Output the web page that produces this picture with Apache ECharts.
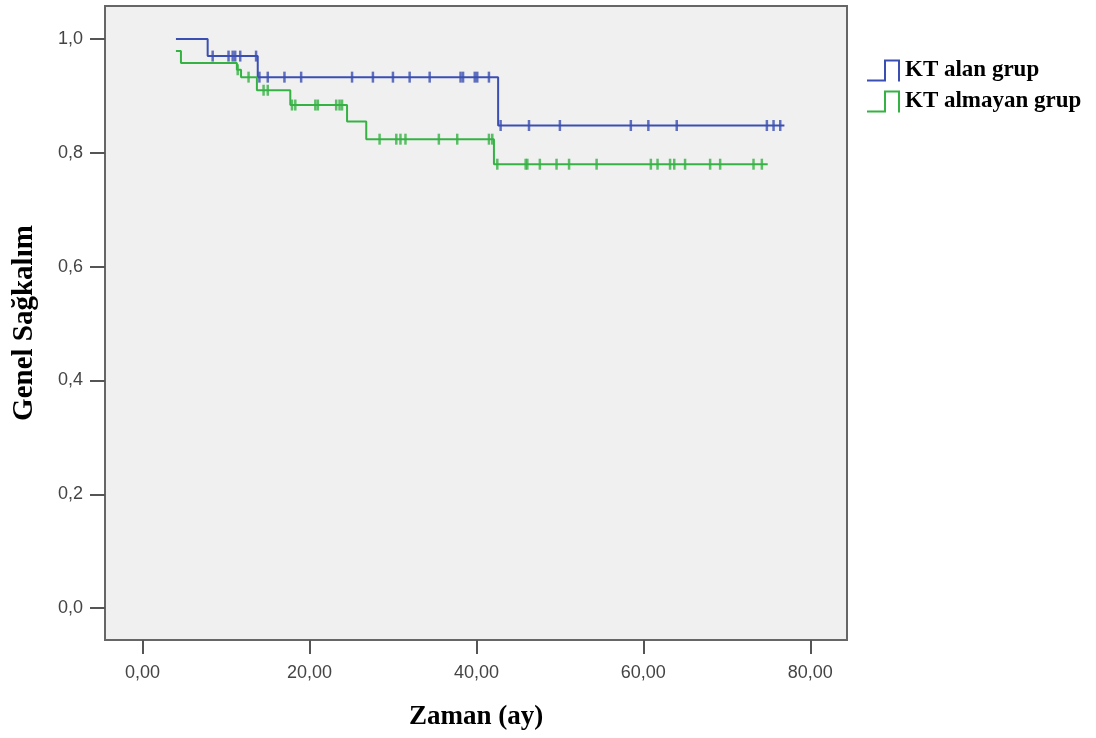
<!DOCTYPE html>
<html>
<head>
<meta charset="utf-8">
<script src="https://cdn.jsdelivr.net/npm/echarts@6/dist/echarts.min.js"></script>
<style>
  html, body { margin: 0; padding: 0; background: #fff; }
  #chart { width: 1096px; height: 738px; }
</style>
</head>
<body>
<div id="chart"></div>
<script>
  // 组名
  var groupNames = ['KT alan grup', 'KT almayan grup'];

  // 阶梯点 [时间, 生存率]
  var ktAlanSteps = [[4.0, 1.0], [7.8, 0.970], [13.8, 0.933], [42.6, 0.848], [76.9, 0.848]];
  var ktAlmayanSteps = [[4.0, 0.979], [4.6, 0.958], [11.3, 0.946], [11.8, 0.933], [13.7, 0.910],
    [17.7, 0.884], [24.5, 0.855], [26.8, 0.824], [42.1, 0.780], [74.9, 0.780]];

  // 删失时间
  var ktAlanCensored = [8.4, 10.3, 10.8, 11.1, 11.7, 13.6, 14.0, 15.0, 17.0, 19.0, 25.1, 27.6, 30.0,
    32.0, 34.4, 38.1, 38.4, 39.8, 40.1, 41.5, 42.9, 46.3, 50.0, 58.5, 60.6, 64.0, 74.8, 75.6, 76.4];
  var ktAlmayanCensored = [11.4, 12.7, 14.5, 15.0, 17.9, 18.3, 20.7, 21.0, 23.2, 23.6, 23.9, 28.4,
    30.4, 30.9, 31.5, 35.5, 37.7, 41.5, 41.9, 42.5, 45.9, 46.1, 47.6, 49.6, 51.1, 54.4, 60.9, 61.7,
    63.2, 63.7, 65.0, 68.0, 69.2, 73.2, 74.2];

  // 刻度
  var xTicks = [0, 20, 40, 60, 80];
  var yTicks = [0, 0.2, 0.4, 0.6, 0.8, 1.0];

  var blue = '#3b4fb2';
  var green = '#36b245';

  // 删失点落在阶梯线上
  function censorPoints(steps, times) {
    return times.map(function (t) {
      var s = steps[0][1];
      for (var i = 0; i < steps.length; i++) {
        if (steps[i][0] <= t) s = steps[i][1];
      }
      return [t, s];
    });
  }

  // 图例图标：阶梯形
  var stepIcon = 'path://M0,20 L17,20 L17,0 L33,0 L33,22 L31,22 L31,2 L19,2 L19,22 L0,22 Z';

  var chart = echarts.init(document.getElementById('chart'));

  var option = {
    backgroundColor: '#fff',
    animation: false,
    grid: {
      left: 105,
      right: 249,
      top: 6,
      bottom: 98,
      show: true,
      backgroundColor: '#f0f0f0',
      borderColor: '#666',
      borderWidth: 2
    },
    legend: {
      orient: 'vertical',
      left: 862,
      top: 54,
      itemWidth: 33,
      itemHeight: 22,
      itemGap: 8,
      textStyle: {
        fontFamily: 'Liberation Serif',
        fontWeight: 'bold',
        fontSize: 23,
        color: '#000',
        padding: [6, 0, 0, 0]
      },
      data: [
        { name: groupNames[0], icon: stepIcon },
        { name: groupNames[1], icon: stepIcon }
      ]
    },
    xAxis: {
      type: 'value',
      min: -4.5,
      max: 84.4,
      name: 'Zaman (ay)',
      nameLocation: 'middle',
      nameGap: 64,
      nameTextStyle: {
        fontFamily: 'Liberation Serif',
        fontWeight: 'bold',
        fontSize: 27,
        color: '#000'
      },
      axisLine: { show: false, onZero: false },
      axisTick: {
        show: true,
        customValues: xTicks,
        length: 14,
        lineStyle: { color: '#555', width: 2 }
      },
      axisLabel: {
        customValues: xTicks,
        margin: 24,
        fontFamily: 'Liberation Sans',
        fontSize: 18,
        color: '#444',
        formatter: function (v) { return v.toFixed(2).replace('.', ','); }
      },
      splitLine: { show: false }
    },
    yAxis: {
      type: 'value',
      min: -0.056,
      max: 1.058,
      name: 'Genel Sağkalım',
      nameLocation: 'middle',
      nameGap: 66,
      nameTextStyle: {
        fontFamily: 'Liberation Serif',
        fontWeight: 'bold',
        fontSize: 29,
        color: '#000'
      },
      axisLine: { show: false, onZero: false },
      axisTick: {
        show: true,
        customValues: yTicks,
        length: 15,
        lineStyle: { color: '#555', width: 2 }
      },
      axisLabel: {
        customValues: yTicks,
        margin: 22,
        fontFamily: 'Liberation Sans',
        fontSize: 18,
        color: '#444',
        formatter: function (v) { return v.toFixed(1).replace('.', ','); }
      },
      splitLine: { show: false }
    },
    series: [
      {
        name: groupNames[0],
        type: 'line',
        step: 'end',
        data: ktAlanSteps,
        showSymbol: false,
        symbol: 'none',
        itemStyle: { color: blue },
        lineStyle: { color: blue, width: 2 }
      },
      {
        name: groupNames[1],
        type: 'line',
        step: 'end',
        data: ktAlmayanSteps,
        showSymbol: false,
        symbol: 'none',
        itemStyle: { color: green },
        lineStyle: { color: green, width: 2 }
      },
      {
        name: groupNames[0] + ' censored',
        type: 'scatter',
        data: censorPoints(ktAlanSteps, ktAlanCensored),
        symbol: 'rect',
        symbolSize: [2.5, 11],
        itemStyle: { color: blue },
        silent: true
      },
      {
        name: groupNames[1] + ' censored',
        type: 'scatter',
        data: censorPoints(ktAlmayanSteps, ktAlmayanCensored),
        symbol: 'rect',
        symbolSize: [2.5, 11],
        itemStyle: { color: green },
        silent: true
      }
    ]
  };

  chart.setOption(option);
</script>
</body>
</html>
